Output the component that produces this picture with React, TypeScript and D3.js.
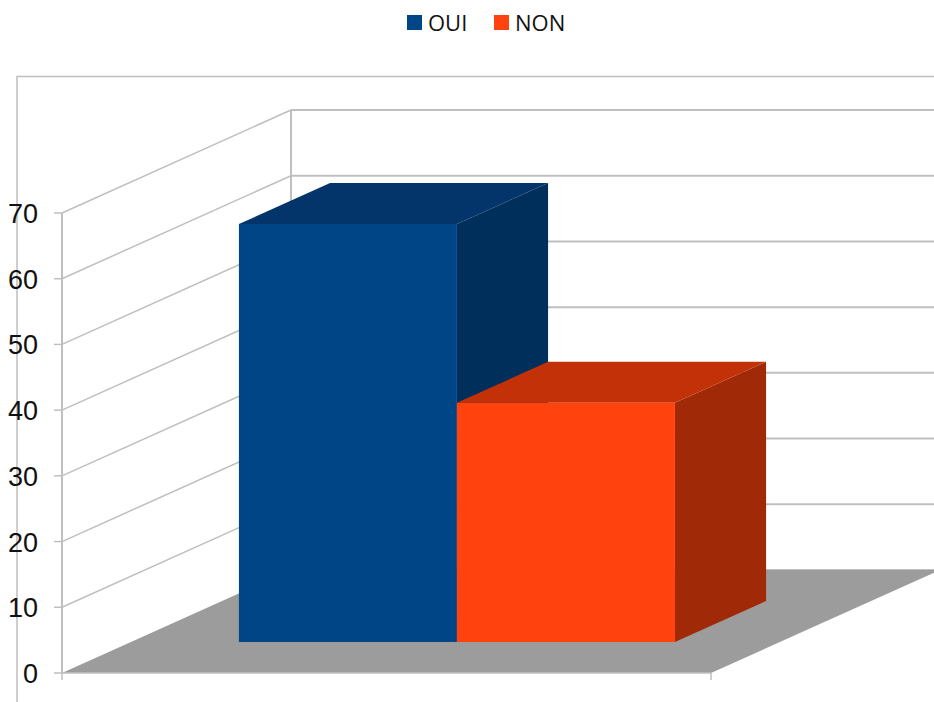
import React from "react";
import * as d3 from "d3";

// Survey result drawn as a 3D-style column chart.
const seriesNames = ["OUI", "NON"];
const seriesValues = [63.6, 36.4];
const frontColors = ["#004586", "#ff420e"];
const topColors = ["#03356a", "#c33109"];
const sideColors = ["#002f5c", "#a02a07"];
const yTicks = [0, 10, 20, 30, 40, 50, 60, 70];

const WIDTH = 934;
const HEIGHT = 702;
const GRID = "#bfbfbf";

const y = d3.scaleLinear().domain([0, 70]).range([673, 213]);
const xFloor = d3.scaleLinear().domain([0, 1]).range([62, 711]);
const depthX = d3.scaleLinear().domain([0, 1]).range([0, 229]);
const depthY = d3.scaleLinear().domain([0, 1]).range([0, -103]);
const band = d3.scaleBand<string>().domain(seriesNames).range([170, 606]).padding(0);

// Project a plot-plane position (px across, value up, depth into the box) to the screen.
const project = (px: number, value: number, depth: number): [number, number] => [
  px + depthX(depth),
  y(value) + depthY(depth),
];

const polygon = (pts: [number, number][]) => (d3.line()(pts) ?? "") + "Z";

const BAR_NEAR = 31 / 103;
const BAR_FAR = 72 / 103;

export default function App() {
  const x0 = xFloor(0);
  const x1 = xFloor(1);
  const floor = polygon([
    project(x0, 0, 0),
    project(x1, 0, 0),
    project(x1, 0, 1),
    project(x0, 0, 1),
  ]);

  return (
    <svg
      width={WIDTH}
      height={HEIGHT}
      style={{ position: "absolute", left: 0, top: 0, background: "#fff" }}
    >
      {/* outer frame */}
      <path d={`M17 ${HEIGHT}V76.5H${WIDTH}`} fill="none" stroke={GRID} strokeWidth={1.5} />

      {/* walls and gridlines */}
      {yTicks.map((t) => {
        const a = project(x0, t, 0);
        const b = project(x0, t, 1);
        const c = project(x1, t, 1);
        return (
          <g key={t}>
            {t > 0 && <line x1={a[0]} y1={a[1]} x2={b[0]} y2={b[1]} stroke={GRID} strokeWidth={1.5} />}
            <line x1={b[0]} y1={b[1]} x2={c[0]} y2={c[1]} stroke={GRID} strokeWidth={2} />
            <line x1={a[0] - 8} y1={a[1]} x2={a[0]} y2={a[1]} stroke={GRID} strokeWidth={1.5} />
            <text
              x={38}
              y={a[1] + 10}
              textAnchor="end"
              fontFamily="'Liberation Sans', Arial, sans-serif"
              fontSize={27}
              fill="#111"
            >
              {t}
            </text>
          </g>
        );
      })}
      <line x1={x0} y1={y(0)} x2={x0} y2={y(70)} stroke={GRID} strokeWidth={2} />
      <line
        x1={project(x0, 0, 1)[0]}
        y1={project(x0, 0, 1)[1]}
        x2={project(x0, 70, 1)[0]}
        y2={project(x0, 70, 1)[1]}
        stroke={GRID}
        strokeWidth={2}
      />

      {/* floor */}
      <path d={floor} fill="#9c9c9c" />
      <line x1={x0} y1={y(0)} x2={x1} y2={y(0)} stroke={GRID} strokeWidth={1.5} />
      {[x0, x1].map((px) => (
        <line key={px} x1={px} y1={y(0)} x2={px} y2={y(0) + 7} stroke={GRID} strokeWidth={1.5} />
      ))}

      {/* columns, left to right so the right one overlaps */}
      {seriesNames.map((name, i) => {
        const l = band(name)!;
        const r = l + band.bandwidth();
        const v = seriesValues[i];
        const front = polygon([
          project(l, 0, BAR_NEAR),
          project(r, 0, BAR_NEAR),
          project(r, v, BAR_NEAR),
          project(l, v, BAR_NEAR),
        ]);
        const top = polygon([
          project(l, v, BAR_NEAR),
          project(r, v, BAR_NEAR),
          project(r, v, BAR_FAR),
          project(l, v, BAR_FAR),
        ]);
        const side = polygon([
          project(r, 0, BAR_NEAR),
          project(r, 0, BAR_FAR),
          project(r, v, BAR_FAR),
          project(r, v, BAR_NEAR),
        ]);
        return (
          <g key={name}>
            <path d={side} fill={sideColors[i]} />
            <path d={top} fill={topColors[i]} />
            <path d={front} fill={frontColors[i]} />
          </g>
        );
      })}

      {/* legend */}
      {seriesNames.map((name, i) => {
        const swatchX = [407, 494][i];
        return (
          <g key={name}>
            <rect x={swatchX} y={15} width={15} height={15} fill={frontColors[i]} />
            <text
              x={swatchX + 21}
              y={31}
              fontFamily="'Open Sans', sans-serif"
              fontSize={22}
              fill="#111"
            >
              {name}
            </text>
          </g>
        );
      })}
    </svg>
  );
}
